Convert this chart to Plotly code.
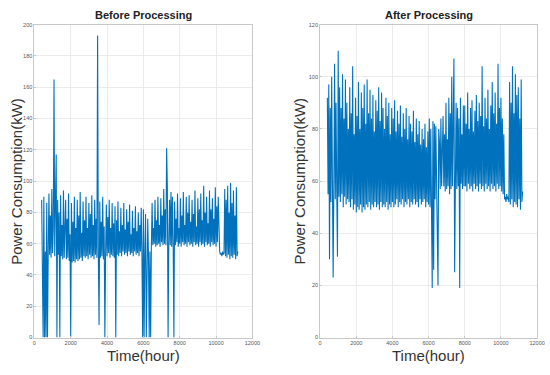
import numpy as np
import plotly.graph_objects as go

# time axis: hourly index sampled every 40 h from 400 to 11200
t_start = 400
t_step = 40

before = [
    88, 54, 0, 90, 0, 55, 0, 86, 0, 52,
    92, 53, 78, 51, 95, 54, 70, 165, 52, 89,
    117, 0, 88, 53, 80, 0, 91, 52, 72, 50,
    94, 51, 68, 88, 50, 76, 51, 92, 49, 66,
    0, 86, 48, 74, 49, 90, 48, 70, 50, 88,
    49, 78, 50, 93, 51, 67, 49, 87, 52, 75,
    51, 90, 52, 70, 50, 86, 53, 79, 51, 91,
    52, 72, 50, 88, 53, 76, 51, 193, 52, 8,
    87, 51, 74, 52, 90, 50, 71, 0, 53, 85,
    52, 77, 54, 88, 51, 70, 53, 86, 52, 73,
    51, 84, 0, 75, 53, 87, 52, 68, 54, 83,
    52, 72, 55, 86, 53, 69, 54, 82, 52, 74,
    55, 85, 53, 66, 54, 81, 52, 70, 55, 84,
    53, 68, 54, 80, 52, 72, 55, 83, 53, 0,
    82, 0, 54, 79, 0, 53, 76, 52, 0, 55,
    0, 58, 86, 59, 70, 60, 88, 58, 75, 59,
    90, 60, 72, 58, 89, 61, 78, 59, 95, 60,
    82, 59, 121, 96, 0, 60, 88, 59, 93, 58,
    90, 60, 0, 87, 59, 76, 61, 92, 58, 70,
    60, 89, 58, 78, 61, 93, 59, 72, 60, 90,
    58, 80, 61, 91, 59, 74, 60, 88, 58, 79,
    61, 94, 59, 71, 60, 89, 58, 82, 61, 92,
    59, 75, 60, 97, 58, 80, 61, 90, 59, 73,
    60, 94, 58, 82, 61, 89, 59, 76, 60, 96,
    58, 84, 61, 90, 57, 55, 53, 54, 52, 55,
    53, 54, 95, 52, 88, 51, 97, 53, 80, 50,
    99, 52, 86, 51, 94, 53, 78, 50, 96, 52, 55,
]

after = [
    92, 55, 97, 30, 88, 52, 100, 46, 23, 58,
    105, 53, 90, 56, 31, 110, 54, 96, 52, 88,
    55, 101, 50, 84, 54, 99, 51, 90, 53, 80,
    52, 96, 50, 86, 53, 104, 49, 78, 51, 92,
    48, 85, 50, 98, 49, 80, 51, 94, 48, 88,
    50, 97, 49, 82, 51, 99, 50, 86, 52, 95,
    49, 84, 51, 93, 50, 79, 52, 91, 50, 87,
    51, 96, 49, 83, 52, 94, 50, 88, 51, 80,
    50, 92, 52, 85, 49, 90, 51, 78, 50, 88,
    52, 84, 50, 91, 51, 79, 53, 87, 50, 82,
    52, 89, 51, 77, 53, 86, 50, 80, 52, 88,
    51, 76, 53, 85, 50, 82, 52, 79, 51, 87,
    53, 75, 51, 84, 52, 78, 50, 83, 53, 74,
    51, 80, 52, 76, 53, 82, 50, 73, 52, 79,
    51, 84, 50, 80, 53, 19, 83, 26, 82, 53,
    81, 55, 56, 20, 80, 75, 57, 84, 58, 72,
    85, 58, 78, 56, 90, 57, 76, 58, 92, 55,
    86, 57, 100, 58, 96, 107, 25, 58, 90, 57,
    88, 58, 84, 19, 92, 59, 78, 57, 89, 58,
    89, 58, 82, 56, 94, 59, 80, 57, 88, 58,
    91, 56, 79, 59, 87, 57, 93, 58, 83, 56,
    90, 59, 85, 57, 104, 58, 81, 56, 92, 59,
    84, 57, 95, 58, 80, 56, 89, 59, 98, 57,
    86, 58, 94, 56, 82, 59, 105, 57, 88, 58,
    92, 56, 84, 55, 78, 53, 54, 52, 55, 53,
    54, 52, 98, 51, 90, 53, 104, 50, 86, 52,
    101, 51, 93, 50, 96, 53, 84, 49, 99, 52, 56,
]

titles = ["Before Processing", "After Processing"]
x_label = "Time(hour)"
y_label = "Power Consumption(kW)"
x_ticks = [0, 2000, 4000, 6000, 8000, 10000, 12000]
y_ticks_before = list(range(0, 201, 20))
y_ticks_after = list(range(0, 121, 20))

t_before = t_start + t_step * np.arange(len(before))
t_after = t_start + t_step * np.arange(len(after))

W, H = 550, 375
def fx(px): return px / W
def fy(py): return 1 - py / H

fig = go.Figure()
line_color = "#0072BD"
fig.add_trace(go.Scatter(x=t_before, y=before, mode="lines",
                         line=dict(color=line_color, width=1.1),
                         xaxis="x", yaxis="y", showlegend=False))
fig.add_trace(go.Scatter(x=t_after, y=after, mode="lines",
                         line=dict(color=line_color, width=1.1),
                         xaxis="x2", yaxis="y2", showlegend=False))

axis_common = dict(showline=True, linecolor="#c8c8c8", linewidth=1, mirror=True,
                   showgrid=True, gridcolor="#ebebeb", gridwidth=1, zeroline=False,
                   ticks="inside", ticklen=2, tickcolor="#c8c8c8",
                   tickfont=dict(family="Arial", size=5.5, color="#555555"))

fig.update_layout(
    width=W, height=H, margin=dict(l=0, r=0, t=0, b=0),
    paper_bgcolor="white", plot_bgcolor="white",
    xaxis=dict(domain=[fx(33), fx(255)], range=[0, 12000], tickvals=x_ticks,
               ticktext=[str(v) for v in x_ticks], anchor="y", **axis_common),
    yaxis=dict(domain=[fy(340), fy(22)], range=[0, 200], tickvals=y_ticks_before,
               ticktext=[str(v) for v in y_ticks_before], anchor="x", **axis_common),
    xaxis2=dict(domain=[fx(324), fx(545)], range=[0, 12000], tickvals=x_ticks,
                ticktext=[str(v) for v in x_ticks], anchor="y2", **axis_common),
    yaxis2=dict(domain=[fy(340), fy(22)], range=[0, 120], tickvals=y_ticks_after,
                ticktext=[str(v) for v in y_ticks_after], anchor="x2", **axis_common),
)

ann = []
for cx, title in [((33 + 255) / 2, titles[0]), ((324 + 545) / 2, titles[1])]:
    ann.append(dict(x=fx(cx), y=fy(12), xref="paper", yref="paper", text="<b>%s</b>" % title,
                    showarrow=False, font=dict(family="Arial", size=11, color="#222222"),
                    xanchor="center", yanchor="middle"))
    ann.append(dict(x=fx(cx), y=fy(358), xref="paper", yref="paper", text=x_label,
                    showarrow=False, font=dict(family="Arial", size=15, color="#333333"),
                    xanchor="center", yanchor="middle"))
for cx in [14, 303]:
    ann.append(dict(x=fx(cx), y=fy(181), xref="paper", yref="paper", text=y_label,
                    showarrow=False, textangle=-90,
                    font=dict(family="Arial", size=15, color="#333333"),
                    xanchor="center", yanchor="middle"))
fig.update_layout(annotations=ann)

fig.write_html("out.html")
